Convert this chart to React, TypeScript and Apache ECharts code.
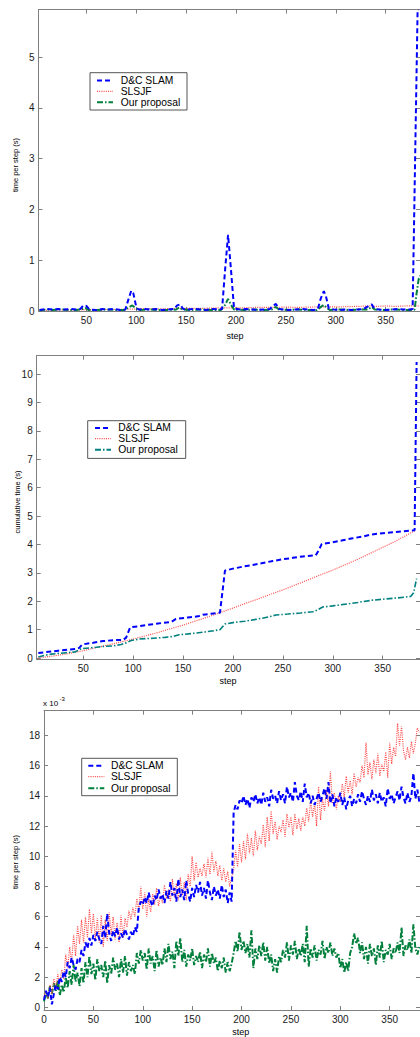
import React, { useEffect, useRef } from "react";
import * as echarts from "echarts";

// ---------- tick labels ----------
const STEP_TICKS = [50, 100, 150, 200, 250, 300, 350];
const STEP_TICKS_3 = [0, 50, 100, 150, 200, 250, 300, 350];
const Y1_TICKS = [0, 1, 2, 3, 4, 5];
const Y2_TICKS = [0, 1, 2, 3, 4, 5, 6, 7, 8, 9, 10];
const Y3_TICKS = [0, 2, 4, 6, 8, 10, 12, 14, 16, 18];

const NAMES = ["D&C SLAM", "SLSJF", "Our proposal"];

// ---------- panel 1 : time per step (s) ----------
const P1_DC: number[][] = [
  [3, 0.02], [10, 0.04], [16, 0.03], [22, 0.04], [28, 0.03], [34, 0.04], [40, 0.03], [44, 0.04], [47, 0.11], [50, 0.1],
  [53, 0.03], [60, 0.02], [66, 0.04], [72, 0.03], [78, 0.04], [84, 0.02], [89, 0.03], [92, 0.22], [95, 0.4], [97, 0.35],
  [100, 0.08], [102, 0.03], [108, 0.04], [114, 0.03], [120, 0.04], [126, 0.02], [132, 0.03], [138, 0.04], [141, 0.11], [144, 0.13],
  [147, 0.04], [152, 0.03], [158, 0.04], [164, 0.03], [170, 0.02], [176, 0.04], [182, 0.03], [186, 0.04], [189, 0.8], [192, 1.5],
  [195, 0.8], [198, 0.05], [204, 0.03], [210, 0.04], [216, 0.03], [222, 0.02], [228, 0.03], [234, 0.04], [237, 0.1], [240, 0.14],
  [243, 0.04], [248, 0.03], [254, 0.02], [260, 0.03], [266, 0.04], [272, 0.03], [278, 0.02], [282, 0.04], [285, 0.25], [288, 0.39],
  [290, 0.3], [293, 0.05], [298, 0.03], [304, 0.02], [310, 0.03], [316, 0.02], [322, 0.03], [328, 0.04], [333, 0.1], [336, 0.13],
  [339, 0.04], [344, 0.03], [350, 0.02], [356, 0.03], [362, 0.04], [368, 0.03], [374, 0.03], [377, 0.04], [382, 5.93], [383, 5.93],
];
const P1_SLSJF: number[][] = [
  [3, 0.01], [20, 0.02], [40, 0.02], [60, 0.03], [80, 0.03], [100, 0.04], [110, 0.05], [120, 0.04], [140, 0.05], [160, 0.05],
  [180, 0.06], [200, 0.06], [220, 0.07], [240, 0.07], [250, 0.08], [260, 0.07], [280, 0.08], [300, 0.08], [320, 0.09], [335, 0.1],
  [340, 0.09], [350, 0.1], [360, 0.09], [370, 0.1], [383, 0.1],
];
const P1_OURS: number[][] = [
  [3, 0.01], [10, 0.03], [16, 0.02], [24, 0.03], [32, 0.02], [40, 0.02], [46, 0.04], [49, 0.06], [52, 0.02], [60, 0.02],
  [70, 0.03], [80, 0.02], [88, 0.02], [93, 0.08], [96, 0.11], [99, 0.06], [102, 0.02], [112, 0.03], [122, 0.02], [132, 0.02],
  [140, 0.03], [143, 0.07], [146, 0.03], [155, 0.02], [165, 0.03], [175, 0.02], [185, 0.02], [189, 0.12], [192, 0.24], [195, 0.12],
  [198, 0.03], [208, 0.02], [218, 0.03], [228, 0.02], [236, 0.03], [240, 0.08], [243, 0.03], [252, 0.02], [262, 0.03], [272, 0.02],
  [281, 0.02], [285, 0.08], [288, 0.12], [291, 0.06], [294, 0.02], [304, 0.03], [314, 0.02], [324, 0.03], [332, 0.03], [336, 0.08],
  [339, 0.03], [348, 0.02], [358, 0.03], [368, 0.02], [377, 0.02], [379, 0.03], [381, 0.35], [383, 0.62], [385, 0.7],
];

// ---------- panel 2 : cumulative time (s) ----------
const P2_DC: number[][] = [
  [5, 0.18], [15, 0.22], [25, 0.26], [35, 0.3], [42, 0.32], [46, 0.36], [49, 0.48], [60, 0.54], [70, 0.6], [80, 0.63],
  [90, 0.64], [93, 0.72], [97, 1.08], [105, 1.12], [115, 1.17], [125, 1.22], [138, 1.27], [143, 1.38], [155, 1.43], [165, 1.47],
  [170, 1.53], [178, 1.56], [187, 1.6], [192, 3.08], [200, 3.15], [210, 3.22], [220, 3.28], [230, 3.35], [240, 3.42], [250, 3.48],
  [260, 3.53], [270, 3.58], [283, 3.62], [286, 3.8], [289, 4.02], [300, 4.08], [310, 4.15], [320, 4.22], [330, 4.28], [338, 4.35],
  [350, 4.4], [360, 4.43], [370, 4.46], [382, 4.5], [384, 10.43],
];
const P2_SLSJF: number[][] = [
  [5, 0], [15, 0.05], [25, 0.1], [37, 0.17], [50, 0.26], [62, 0.36], [75, 0.46], [87, 0.56], [100, 0.67], [112, 0.78],
  [125, 0.9], [137, 1.03], [150, 1.16], [162, 1.3], [175, 1.45], [187, 1.6], [200, 1.76], [212, 1.92], [225, 2.08], [237, 2.24],
  [250, 2.4], [262, 2.57], [275, 2.75], [287, 2.92], [300, 3.1], [312, 3.28], [325, 3.48], [337, 3.68], [350, 3.9], [362, 4.1],
  [375, 4.35], [383, 4.5],
];
const P2_OURS: number[][] = [
  [5, 0.04], [12, 0.1], [18, 0.14], [30, 0.18], [42, 0.22], [48, 0.33], [60, 0.37], [70, 0.41], [80, 0.43], [88, 0.48],
  [94, 0.55], [98, 0.62], [106, 0.67], [120, 0.7], [132, 0.73], [140, 0.76], [146, 0.82], [160, 0.87], [172, 0.92], [182, 0.97],
  [187, 1.0], [192, 1.2], [200, 1.25], [212, 1.3], [224, 1.37], [236, 1.45], [243, 1.52], [255, 1.55], [268, 1.59], [280, 1.63],
  [285, 1.7], [290, 1.8], [300, 1.84], [313, 1.9], [325, 1.96], [340, 2.04], [352, 2.08], [365, 2.12], [378, 2.17], [381, 2.3],
  [384, 2.8],
];

// ---------- panel 3 : time per step (x 10^-3 s), one value every 2 steps from step 0 ----------
const P3_DC = [
  0.5, 1.1, 0.7, 1.3, 0.2, 0.9, 1.5, 1.2, 2.0, 1.7,
  2.4, 2.0, 3.0, 2.6, 3.3, 2.8, 2.5, 3.2, 3.0, 3.8,
  3.4, 4.3, 3.9, 4.6, 4.1, 4.8, 4.4, 5.0, 4.5, 4.2,
  5.4, 4.6, 6.2, 4.9, 4.4, 5.1, 4.7, 5.3, 4.5, 4.9,
  4.6, 5.2, 4.8, 4.5, 5.0, 4.7, 5.3, 5.0, 6.6, 7.0,
  6.8, 7.3, 6.9, 7.6, 7.0, 6.7, 7.4, 7.1, 7.8, 7.2,
  7.5, 6.9, 7.7, 7.2, 8.3, 7.4, 7.9, 7.0, 8.5, 7.3,
  7.8, 7.1, 8.4, 7.5, 7.0, 7.9, 7.3, 8.1, 7.6, 8.3,
  7.4, 7.9, 7.2, 8.4, 7.6, 7.1, 8.0, 7.4, 7.8, 7.2,
  8.1, 7.3, 7.8, 6.9, 7.6, 7.0, 12.9, 13.4, 13.1, 13.7,
  13.5, 14.0, 13.4, 13.8, 13.2, 13.9, 13.6, 14.1, 13.5, 13.9,
  13.4, 14.2, 13.6, 13.9, 13.3, 14.4, 13.8, 14.0, 13.5, 14.3,
  13.7, 14.1, 13.5, 14.6, 13.9, 14.2, 13.6, 14.9, 14.0, 13.7,
  14.3, 13.6, 14.8, 13.9, 14.2, 13.5, 14.0, 13.4, 13.8, 14.2,
  13.6, 14.0, 14.5, 13.8, 14.9, 13.5, 14.1, 13.3, 13.9, 13.6,
  14.2, 13.4, 13.9, 13.1, 13.7, 14.0, 13.3, 13.8, 13.5, 14.1,
  13.6, 14.3, 13.8, 13.4, 14.0, 13.6, 14.4, 13.7, 14.1, 13.5,
  14.2, 13.6, 13.9, 13.3, 14.5, 13.8, 14.1, 13.5, 13.9, 14.3,
  13.7, 14.6, 13.9, 13.5, 14.2, 13.6, 14.0, 15.5, 13.8, 14.4,
  13.6,
];
const P3_SLSJF = [
  0.7, 1.1, 0.6, 1.5, 0.9, 1.9, 1.3, 2.2, 1.6, 2.5,
  1.9, 3.5, 2.6, 4.0, 3.0, 4.8, 3.4, 5.4, 4.2, 5.8,
  4.3, 6.0, 4.6, 6.5, 4.9, 6.2, 4.5, 5.9, 4.3, 6.1,
  4.0, 5.8, 4.4, 6.3, 4.8, 6.0, 4.5, 5.6, 4.3, 6.1,
  4.6, 5.9, 5.3, 6.4, 5.8, 6.6, 6.0, 7.2, 6.4, 8.0,
  6.5, 7.6, 6.0, 7.2, 6.3, 7.5, 6.8, 7.9, 6.7, 7.4,
  6.9, 8.1, 7.2, 7.8, 7.0, 8.5, 7.3, 8.2, 7.1, 8.6,
  7.4, 8.3, 7.1, 8.8, 8.0, 10.0, 8.4, 9.6, 8.6, 9.2,
  8.7, 9.5, 8.6, 9.9, 8.8, 10.3, 9.0, 9.7, 8.7, 9.4,
  8.4, 9.2, 8.3, 9.0, 8.0, 8.6, 9.1, 10.4, 9.3, 10.8,
  9.6, 11.0, 9.8, 11.5, 10.2, 11.2, 10.0, 11.7, 10.4, 11.3,
  10.8, 12.1, 10.6, 12.6, 11.0, 13.0, 11.5, 12.3, 11.1, 12.0,
  11.6, 12.4, 11.3, 12.8, 11.9, 12.6, 11.4, 12.8, 11.8, 12.5,
  11.7, 12.6, 12.0, 13.2, 12.3, 13.7, 12.6, 13.5, 12.0, 14.6,
  12.4, 13.8, 13.0, 14.4, 13.3, 15.6, 13.5, 14.2, 13.1, 14.0,
  13.6, 14.8, 13.9, 15.3, 14.2, 15.0, 14.1, 15.5, 14.6, 15.2,
  14.9, 16.0, 15.2, 17.5, 15.4, 16.2, 15.1, 16.4, 15.5, 16.8,
  15.3, 16.1, 15.6, 16.9, 15.2, 17.5, 16.1, 17.2, 16.6, 18.8,
  17.3, 18.6, 17.0, 16.4, 17.2, 16.5, 17.6, 16.8, 17.5, 18.5,
  18.2,
];
const P3_OURS = [
  0.4, 1.0, 0.6, 1.4, 0.9, 1.6, 1.1, 1.8, 0.8, 1.5,
  1.0, 2.0, 1.3, 2.4, 1.5, 2.8, 1.7, 2.3, 1.4, 2.6,
  1.6, 3.0, 2.0, 3.4, 2.2, 2.9, 1.8, 3.2, 2.4, 2.8,
  2.0, 3.1, 1.6, 2.8, 2.2, 3.3, 2.5, 2.9, 2.0, 3.2,
  2.3, 3.4, 2.1, 3.0, 2.4, 2.8, 2.2, 3.6, 2.9, 3.8,
  3.1, 3.6, 2.5, 3.9, 2.9, 3.4, 2.4, 3.8, 2.7, 3.3,
  2.8, 3.9, 3.0, 4.2, 3.2, 3.7, 2.6, 4.4, 3.4, 4.6,
  3.0, 3.8, 2.7, 3.5, 3.1, 3.9, 2.8, 3.4, 3.0, 3.7,
  2.6, 3.5, 3.0, 3.9, 2.7, 3.6, 2.9, 3.3, 2.4, 3.1,
  2.6, 3.3, 2.3, 3.0, 2.4, 2.9, 3.6, 4.4, 3.7, 5.0,
  3.8, 4.4, 3.6, 4.2, 3.3, 5.1, 2.6, 3.9, 3.2, 4.1,
  3.4, 4.3, 3.1, 4.0, 2.9, 3.5, 2.4, 3.2, 2.3, 3.4,
  3.0, 3.8, 3.3, 4.3, 3.1, 4.1, 3.5, 4.4, 3.2, 3.9,
  3.4, 4.2, 3.0, 5.4, 2.7, 3.9, 3.3, 4.1, 3.1, 3.8,
  3.5, 4.4, 3.2, 4.0, 3.6, 4.3, 3.4, 3.9, 3.3, 3.6,
  2.6, 3.2, 2.3, 3.0, 2.4, 3.6, 4.0, 4.9, 4.2, 4.6,
  3.6, 4.3, 3.2, 4.0, 2.9, 4.2, 3.4, 3.9, 2.8, 4.1,
  3.3, 4.4, 3.0, 3.8, 3.5, 4.2, 3.2, 3.9, 3.6, 4.3,
  3.6, 5.3, 3.4, 4.1, 3.8, 4.5, 3.6, 5.5, 3.9, 3.5,
  4.0,
];

// ---------- styles ----------
const FONT = "'Liberation Sans', Arial, Helvetica, sans-serif";
const AX = "#7f7f7f";
const BLUE = "#0000ff";
const RED = "#ff4a4a";
const GREEN = "#00803c";
const TEAL = "#008080";
const DASH = [5, 3];
const DOT = [1, 1.2];
const DASHDOT = [6, 2, 1.5, 2];

function xAxesFor(grid: number, min: number, max: number, ticks: number[]) {
  const base = {
    type: "value",
    gridIndex: grid,
    min,
    max,
    splitLine: { show: false },
    axisLine: { show: true, onZero: false, lineStyle: { color: AX, width: 1 } },
  };
  return [
    {
      ...base,
      position: "bottom",
      axisTick: { show: true, inside: true, length: 4, customValues: ticks, lineStyle: { color: AX } },
      axisLabel: { show: true, customValues: ticks, margin: 4, fontSize: 10, color: "#1a1a1a", fontFamily: FONT },
    },
    {
      ...base,
      position: "top",
      axisTick: { show: true, inside: true, length: 4, customValues: ticks, lineStyle: { color: AX } },
      axisLabel: { show: false },
    },
  ];
}

function yAxesFor(grid: number, min: number, max: number, ticks: number[]) {
  const base = {
    type: "value",
    gridIndex: grid,
    min,
    max,
    splitLine: { show: false },
    axisLine: { show: true, onZero: false, lineStyle: { color: AX, width: 1 } },
  };
  return [
    {
      ...base,
      position: "left",
      axisTick: { show: true, inside: true, length: 4, customValues: ticks, lineStyle: { color: AX } },
      axisLabel: { show: true, customValues: ticks, margin: 4, fontSize: 10, color: "#1a1a1a", fontFamily: FONT },
    },
    {
      ...base,
      position: "right",
      axisTick: { show: true, inside: true, length: 4, customValues: ticks, lineStyle: { color: AX } },
      axisLabel: { show: false },
    },
  ];
}

function lineSeries(name: string, data: number[][], axis: number, color: string, width: number, dash: number[], z: number) {
  return {
    type: "line",
    name,
    data,
    xAxisIndex: axis,
    yAxisIndex: axis,
    symbol: "none",
    showSymbol: false,
    clip: true,
    z,
    lineStyle: { color, width, type: dash },
    emphasis: { disabled: true },
  };
}

function legendBox(x: number, y: number, w: number, h: number, rows: number[], lx1: number, lx2: number, tx: number, colors: string[]) {
  const widths = [2, 1.2, 2];
  const dashes = [DASH, DOT, DASHDOT];
  const els: any[] = [
    { type: "rect", z: 100, shape: { x, y, width: w, height: h }, style: { fill: "#ffffff", stroke: "#555555", lineWidth: 1 } },
  ];
  NAMES.forEach((n, i) => {
    els.push({
      type: "line",
      z: 101,
      shape: { x1: lx1, y1: rows[i], x2: lx2, y2: rows[i] },
      style: { stroke: colors[i], lineWidth: widths[i], lineDash: dashes[i] },
    });
    els.push({
      type: "text",
      z: 101,
      x: tx,
      y: rows[i],
      style: { text: n, fill: "#000", font: `10.3px ${FONT}`, align: "left", verticalAlign: "middle" },
    });
  });
  return els;
}

function text(t: string, x: number, y: number, size: number, rotate = false) {
  return {
    type: "text",
    z: 50,
    x,
    y,
    rotation: rotate ? Math.PI / 2 : 0,
    style: { text: t, fill: "#000", font: `${size}px ${FONT}`, align: "center", verticalAlign: "middle" },
  };
}

export default function App() {
  const ref = useRef<HTMLDivElement>(null);

  useEffect(() => {
    if (!ref.current) return;
    const chart = echarts.init(ref.current, undefined, { renderer: "svg" });

    const p3 = (arr: number[]) => arr.map((v, i) => [i * 2, v]);

    const option: any = {
      animation: false,
      backgroundColor: "#ffffff",
      grid: [
        { left: 38.5, top: 9.5, width: 382, height: 301.5, containLabel: false },
        { left: 36.7, top: 355.7, width: 384, height: 303.8, containLabel: false },
        { left: 44, top: 710.7, width: 376.5, height: 299.3, containLabel: false },
      ],
      xAxis: [
        ...xAxesFor(0, 2, 384.4, STEP_TICKS),
        ...xAxesFor(1, 3.4, 387.4, STEP_TICKS),
        ...xAxesFor(2, 0, 380.7, STEP_TICKS_3),
      ],
      yAxis: [
        ...yAxesFor(0, 0, 5.94, Y1_TICKS),
        ...yAxesFor(1, -0.05, 10.65, Y2_TICKS),
        ...yAxesFor(2, -0.17, 19.63, Y3_TICKS),
      ],
      series: [
        lineSeries(NAMES[1], P1_SLSJF, 0, RED, 1.2, DOT, 2),
        lineSeries(NAMES[2], P1_OURS, 0, GREEN, 2, DASHDOT, 3),
        lineSeries(NAMES[0], P1_DC, 0, BLUE, 2, DASH, 4),

        lineSeries(NAMES[1], P2_SLSJF, 2, RED, 1.2, DOT, 2),
        lineSeries(NAMES[2], P2_OURS, 2, TEAL, 1.6, DASHDOT, 3),
        lineSeries(NAMES[0], P2_DC, 2, BLUE, 2, DASH, 4),

        lineSeries(NAMES[2], p3(P3_OURS), 4, GREEN, 2, DASHDOT, 2),
        lineSeries(NAMES[1], p3(P3_SLSJF), 4, RED, 1.2, DOT, 3),
        lineSeries(NAMES[0], p3(P3_DC), 4, BLUE, 2, DASH, 4),
      ],
      graphic: [
        text("time per step (s)", 15.5, 165, 7.5, true),
        text("step", 235, 336, 9),
        text("cumulative time (s)", 17, 502, 7.5, true),
        text("step", 228, 681, 9),
        text("time per step (s)", 15.5, 862, 7.5, true),
        text("step", 240.7, 1032, 9),
        {
          type: "text",
          z: 50,
          x: 43,
          y: 703,
          style: { text: "x 10", fill: "#000", font: `8px ${FONT}`, align: "left", verticalAlign: "middle" },
        },
        {
          type: "text",
          z: 50,
          x: 59.5,
          y: 699,
          style: { text: "-3", fill: "#000", font: `6px ${FONT}`, align: "left", verticalAlign: "middle" },
        },
        ...legendBox(90, 72.7, 97, 37.3, [80.5, 91.3, 102.3], 97, 113, 120.7, [BLUE, RED, GREEN]),
        ...legendBox(87.7, 420.7, 98, 37.7, [427.9, 438.7, 449.7], 95, 111, 118.3, [BLUE, RED, TEAL]),
        ...legendBox(81.7, 758.3, 95.6, 37.4, [765.8, 776.7, 788.2], 88.3, 104.3, 111, [BLUE, RED, GREEN]),
      ],
    };

    chart.setOption(option);
    return () => {
      chart.dispose();
    };
  }, []);

  return (
    <div
      ref={ref}
      style={{ position: "absolute", left: 0, top: 0, width: 420, height: 1037, background: "#fff" }}
    />
  );
}
